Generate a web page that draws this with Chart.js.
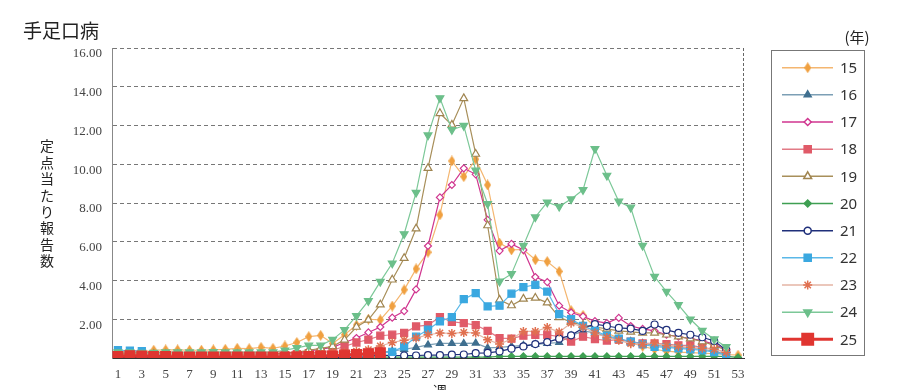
<!DOCTYPE html>
<html>
<head>
<meta charset="utf-8">
<script src="https://cdn.jsdelivr.net/npm/chart.js@4/dist/chart.umd.min.js"></script>
<style>
  body { margin: 0; background: #fff; }
</style>
</head>
<body>
<canvas id="chart" width="904" height="390"></canvas>
<script>
// weeks 1..53
var weeks = [];
for (var w = 1; w <= 53; w++) weeks.push(String(w));

var years = ['15', '16', '17', '18', '19', '20', '21', '22', '23', '24', '25'];

// reports per sentinel, by week
var y15 = [0.2,0.25,0.3,0.4,0.42,0.42,0.4,0.4,0.42,0.45,0.5,0.48,0.55,0.5,0.62,0.8,1.1,1.17,0.75,1.2,1.7,2.0,1.97,2.68,3.52,4.6,5.46,7.39,10.17,9.36,10.26,8.93,5.93,5.58,5.6,5.07,4.98,4.47,2.45,2.2,1.6,1.3,1.0,0.8,0.6,0.45,0.35,0.3,0.28,0.25,0.22,0.18,0.15];
var y16 = [0.15,0.15,0.12,0.1,0.1,0.1,0.1,0.1,0.1,0.1,0.1,0.1,0.1,0.1,0.12,0.15,0.15,0.15,0.18,0.2,0.22,0.25,0.3,0.35,0.45,0.55,0.68,0.75,0.75,0.75,0.77,0.52,0.55,0.6,0.65,0.7,0.75,0.8,1.15,1.4,1.3,1.1,0.95,0.85,0.75,0.65,0.6,0.55,0.5,0.45,0.35,0.2,null];
var y17 = [0.15,0.15,0.12,0.12,0.12,0.12,0.12,0.12,0.12,0.12,0.15,0.15,0.15,0.15,0.15,0.25,0.35,0.45,0.55,0.8,1.03,1.32,1.6,2.08,2.42,3.54,5.78,8.29,8.93,9.79,9.48,7.13,5.53,5.89,5.58,4.18,3.92,2.7,2.35,2.15,1.9,1.8,2.07,1.65,1.5,1.4,1.2,1.1,1.0,0.9,0.7,0.45,null];
var y18 = [0.2,0.2,0.2,0.15,0.15,0.15,0.15,0.15,0.15,0.15,0.15,0.15,0.15,0.15,0.15,0.2,0.25,0.3,0.4,0.6,0.8,0.95,1.15,1.2,1.3,1.63,1.7,2.11,1.87,1.8,1.7,1.4,1.03,1.0,1.15,1.2,1.2,1.1,0.85,1.1,0.98,0.9,0.95,0.85,0.75,0.75,0.72,0.65,0.65,0.55,0.45,0.3,null];
var y19 = [0.2,0.2,0.2,0.2,0.2,0.2,0.2,0.2,0.2,0.2,0.2,0.2,0.2,0.2,0.25,0.3,0.4,0.5,0.6,0.94,1.6,1.97,2.75,4.04,5.15,6.68,9.8,12.63,12.03,13.4,10.53,6.84,3.0,2.71,3.05,3.1,2.86,2.1,1.85,1.7,1.6,1.5,1.4,1.35,1.3,1.3,1.2,1.1,1.0,0.85,0.65,0.4,null];
var y20 = [0.15,0.15,0.12,0.1,0.1,0.08,0.06,0.05,0.05,0.05,0.05,0.05,0.05,0.05,0.05,0.05,0.05,0.05,0.05,0.05,0.05,0.05,0.05,0.05,0.05,0.05,0.05,0.05,0.05,0.05,0.05,0.05,0.08,0.08,0.08,0.08,0.08,0.08,0.08,0.08,0.08,0.08,0.08,0.08,0.08,0.08,0.08,0.08,0.08,0.08,0.08,0.08,0.03];
var y21 = [0.03,0.03,0.03,0.03,0.03,0.03,0.03,0.03,0.03,0.03,0.03,0.03,0.03,0.03,0.03,0.03,0.03,0.03,0.03,0.03,0.03,0.08,0.15,0.13,0.13,0.13,0.15,0.15,0.17,0.18,0.25,0.26,0.34,0.48,0.6,0.72,0.82,1.0,1.17,1.55,1.75,1.65,1.55,1.52,1.4,1.73,1.45,1.3,1.2,1.07,0.88,0.42,null];
var y22 = [0.4,0.38,0.35,0.2,0.15,0.1,0.1,0.1,0.1,0.1,0.1,0.1,0.1,0.1,0.1,0.1,0.1,0.1,0.1,0.1,0.1,0.12,0.25,0.32,0.6,1.1,1.46,1.89,2.11,3.04,3.35,2.66,2.7,3.32,3.66,3.78,3.43,2.27,2.0,1.66,1.4,1.15,1.0,0.85,0.7,0.58,0.55,0.5,0.45,0.4,0.3,0.15,null];
var y23 = [0.15,0.15,0.15,0.15,0.15,0.15,0.15,0.15,0.15,0.15,0.15,0.15,0.15,0.15,0.15,0.2,0.2,0.25,0.3,0.3,0.35,0.43,0.62,0.8,0.92,1.03,1.2,1.29,1.27,1.32,1.29,0.94,0.72,0.98,1.37,1.37,1.58,1.34,1.8,1.6,1.29,1.06,0.91,0.74,0.7,0.77,0.65,0.6,0.55,0.5,0.45,0.29,null];
var y24 = [0.3,0.3,0.28,0.28,0.3,0.3,0.3,0.3,0.32,0.3,0.3,0.3,0.3,0.3,0.4,0.52,0.65,0.65,0.95,1.45,2.17,2.95,3.94,4.89,6.4,8.54,11.5,13.42,11.78,11.99,9.68,7.96,3.95,4.34,5.8,7.27,8.04,7.82,8.2,8.68,10.8,9.42,8.08,7.77,5.8,4.2,3.43,2.74,2.0,1.41,0.97,0.58,null];
var y25 = [0.08,0.12,0.1,0.08,0.08,0.05,0.05,0.05,0.05,0.05,0.05,0.05,0.05,0.05,0.05,0.06,0.08,0.1,0.1,0.15,0.18,0.22,0.27];

var series = [y15, y16, y17, y18, y19, y20, y21, y22, y23, y24, y25];

// tall narrow diamond for the 15 series
function tallDiamond(color) {
  var c = document.createElement('canvas');
  c.width = 7; c.height = 11;
  var g = c.getContext('2d');
  g.fillStyle = color;
  g.beginPath();
  g.moveTo(3.5, 0); g.lineTo(7, 5.5); g.lineTo(3.5, 11); g.lineTo(0, 5.5);
  g.closePath();
  g.fill();
  return c;
}

// line colour, marker colour, marker fill, style, radius, rotation, line width
var looks = [
  ['#f4b670', '#f0a040', '#f0a040', tallDiamond('#f0a040'), 4, 0, 1.2],
  ['#7c9fb5', '#3f6f8f', '#3f6f8f', 'triangle', 4, 0, 1.2],
  ['#d0358f', '#d0358f', '#ffffff', 'rectRot', 3.5, 0, 1.2],
  ['#e27a86', '#e05a68', '#e05a68', 'rect', 5, 0, 1.2],
  ['#a88f5a', '#a08550', '#ffffff', 'triangle', 4.5, 0, 1.2],
  ['#3e9f52', '#3e9f52', '#3e9f52', 'rectRot', 3.5, 0, 1.2],
  ['#1f2f7a', '#1f2f7a', '#ffffff', 'circle', 3.5, 0, 1.2],
  ['#5ab8e8', '#3aa8e0', '#3aa8e0', 'rect', 5, 0, 1.2],
  ['#e4b4a4', '#e07050', '#e07050', 'star', 4.5, 0, 1.2],
  ['#7cc898', '#6cbf8a', '#6cbf8a', 'triangle', 4.5, 180, 1.2],
  ['#e03530', '#e03530', '#e03530', 'rect', 7, 0, 3]
];

var datasets = years.map(function (yr, i) {
  var lk = looks[i];
  return {
    label: yr,
    data: series[i],
    borderColor: lk[0],
    borderWidth: lk[6],
    pointStyle: lk[3],
    pointRadius: lk[4],
    pointRotation: lk[5],
    pointBorderColor: lk[1],
    pointBackgroundColor: lk[2],
    pointBorderWidth: lk[3] === 'star' ? 1.5 : 1.2,
    tension: 0,
    order: years.length - 1 - i
  };
});

function marker(ctx, lk, x, y) {
  ctx.save();
  ctx.fillStyle = lk[2];
  ctx.strokeStyle = lk[1];
  if (Chart.helpers && Chart.helpers.drawPoint) {
    Chart.helpers.drawPoint(ctx, {
      pointStyle: lk[3], rotation: lk[5], radius: lk[4],
      borderWidth: lk[3] === 'star' ? 1.5 : 1.2
    }, x, y);
  } else {
    ctx.beginPath();
    ctx.arc(x, y, lk[4], 0, Math.PI * 2);
    ctx.fill();
    ctx.stroke();
  }
  ctx.restore();
}

var extras = {
  id: 'extras',
  afterDraw: function (chart) {
    var ctx = chart.ctx;
    var a = chart.chartArea;
    ctx.save();

    // right border
    ctx.strokeStyle = '#666';
    ctx.lineWidth = 1;
    ctx.setLineDash([3, 2]);
    ctx.beginPath();
    ctx.moveTo(a.right - 0.5, a.top);
    ctx.lineTo(a.right - 0.5, a.bottom);
    ctx.stroke();
    ctx.setLineDash([]);

    // title
    ctx.fillStyle = '#222';
    ctx.font = '19px "Noto Sans CJK JP"';
    ctx.textAlign = 'left';
    ctx.textBaseline = 'alphabetic';
    ctx.fillText('手足口病', 23, 38);

    // y axis title, stacked
    var yt = '定点当たり報告数';
    ctx.font = '14px "Noto Sans CJK JP"';
    ctx.textAlign = 'center';
    ctx.textBaseline = 'middle';
    for (var k = 0; k < yt.length; k++) {
      ctx.fillText(yt[k], 47, 146 + k * 16.4);
    }

    // x axis title
    ctx.fillText('週', 440, 391);

    // legend
    ctx.strokeStyle = '#777';
    ctx.lineWidth = 1;
    ctx.strokeRect(771.5, 50.5, 93, 305);
    ctx.font = '15px "Noto Sans CJK JP"';
    ctx.fillStyle = '#222';
    ctx.fillText('(年)', 857, 37);

    ctx.textAlign = 'left';
    ctx.font = '15px "Noto Sans"';
    for (var i = 0; i < years.length; i++) {
      var lk = looks[i];
      var cy = 67.7 + i * 27.16;
      ctx.strokeStyle = lk[0];
      ctx.lineWidth = i === 10 ? 3 : 1.5;
      ctx.beginPath();
      ctx.moveTo(782, cy);
      ctx.lineTo(833, cy);
      ctx.stroke();
      marker(ctx, lk, 807.7, cy);
      ctx.fillStyle = '#333';
      ctx.fillText(years[i], 840, cy + 1);
    }
    ctx.restore();
  }
};

new Chart(document.getElementById('chart'), {
  type: 'line',
  data: { labels: weeks, datasets: datasets },
  options: {
    responsive: false,
    animation: false,
    layout: { padding: { top: 48, right: 160, left: 0, bottom: 0 } },
    plugins: { legend: { display: false }, tooltip: { enabled: false } },
    scales: {
      x: {
        offset: true,
        grid: { display: false },
        border: { display: true, color: '#333', width: 1 },
        ticks: {
          autoSkip: false,
          maxRotation: 0,
          padding: 1,
          color: '#444',
          font: { family: '"Liberation Serif"', size: 13 },
          callback: function (v, i) { return i % 2 === 0 ? this.getLabelForValue(v) : ''; }
        },
        afterFit: function (s) { s.height = 32; }
      },
      y: {
        min: 0,
        max: 16,
        grid: { color: '#777', drawTicks: false },
        border: { display: true, color: '#888', dash: [4, 3] },
        ticks: {
          stepSize: 2,
          padding: 10,
          labelOffset: 6,
          color: '#444',
          font: { family: '"Liberation Serif"', size: 13 },
          callback: function (v) { return v === 0 ? '' : v.toFixed(2); }
        },
        afterFit: function (s) { s.width = 112; }
      }
    }
  },
  plugins: [extras]
});
</script>
</body>
</html>
